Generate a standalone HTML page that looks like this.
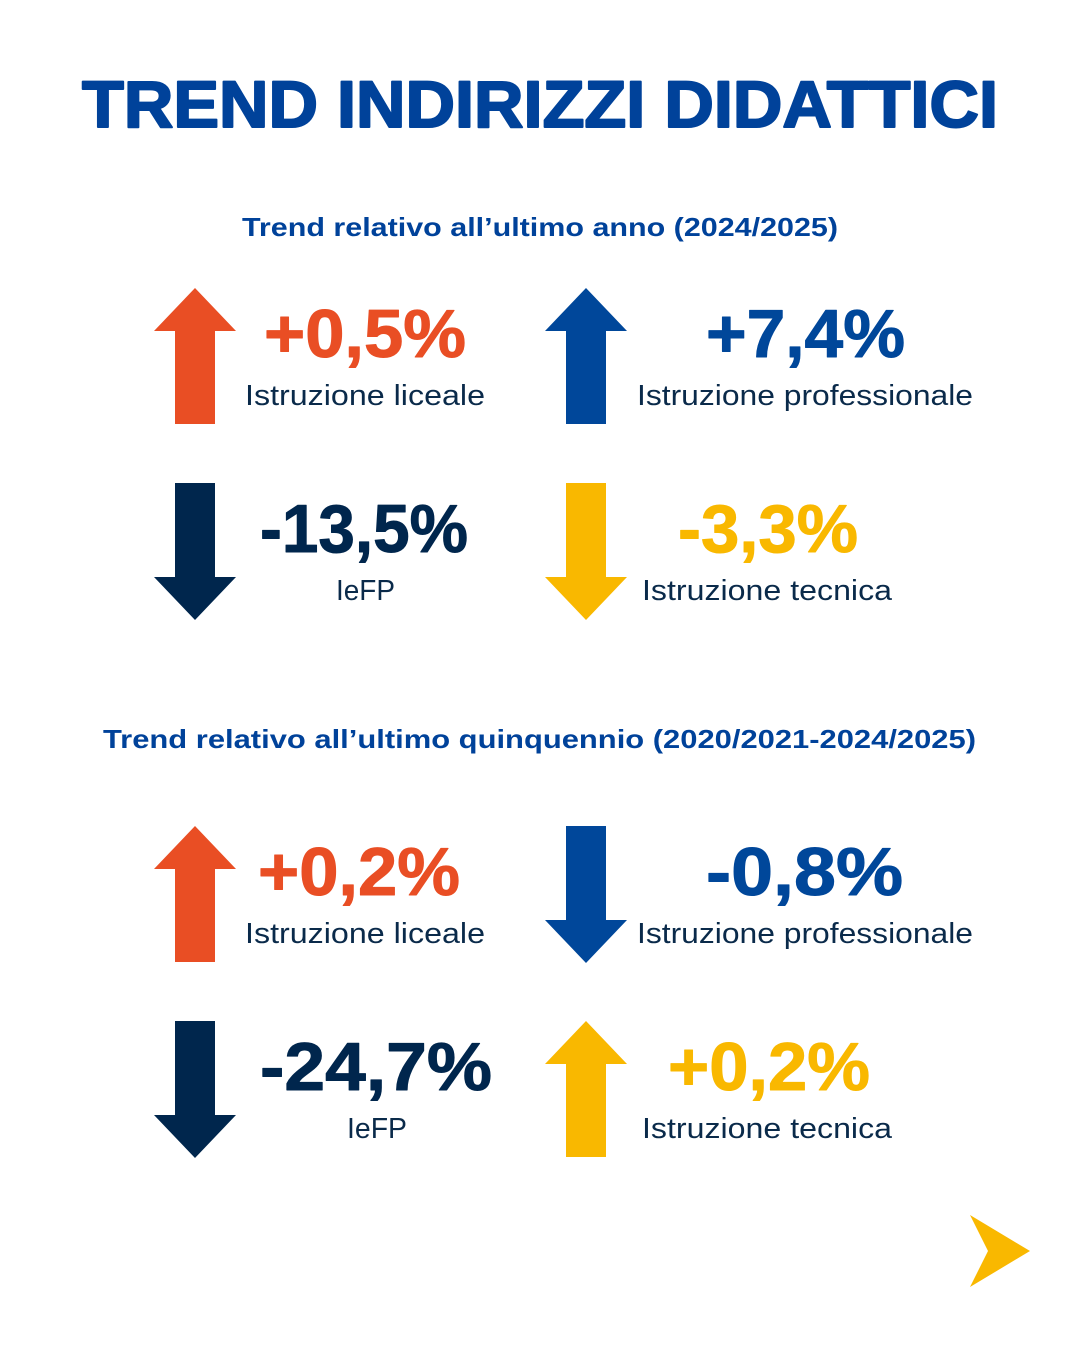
<!DOCTYPE html>
<html><head><meta charset="utf-8"><style>
html,body{margin:0;padding:0;background:#fff}
svg{display:block}
text{font-family:"Liberation Sans",sans-serif}
.t{font-weight:bold}
.n{stroke-width:1;stroke-linejoin:round}
.l{font-weight:normal;fill:#0a2a4a}
</style></head><body>
<svg width="1080" height="1350" viewBox="0 0 1080 1350" xmlns="http://www.w3.org/2000/svg">
<rect width="1080" height="1350" fill="#fff"/>
<text class="t" x="82" y="127" font-size="66" fill="#00429A" stroke="#00429A" stroke-width="2" stroke-linejoin="round" textLength="916" lengthAdjust="spacingAndGlyphs">TREND INDIRIZZI DIDATTICI</text>
<text class="t" x="242" y="236" font-size="26" fill="#00429A" textLength="596" lengthAdjust="spacingAndGlyphs">Trend relativo all’ultimo anno (2024/2025)</text>
<text class="t" x="103" y="748" font-size="26" fill="#00429A" textLength="873" lengthAdjust="spacingAndGlyphs">Trend relativo all’ultimo quinquennio (2020/2021-2024/2025)</text>

<defs>
<polygon id="up" points="41,0 82,43 61,43 61,136 21,136 21,43 0,43"/>
<polygon id="dn" points="21,0 61,0 61,94 82,94 41,137 0,94 21,94"/>
</defs>

<use href="#up" x="154" y="288" fill="#E94E24"/>
<use href="#up" x="545" y="288" fill="#00479A"/>
<use href="#dn" x="154" y="483" fill="#00264D"/>
<use href="#dn" x="545" y="483" fill="#F9B800"/>

<text class="t n" x="264" y="357" font-size="68" fill="#E94E24" stroke="#E94E24" textLength="202" lengthAdjust="spacingAndGlyphs">+0,5%</text>
<text class="l" x="245" y="405" font-size="29" textLength="240" lengthAdjust="spacingAndGlyphs">Istruzione liceale</text>
<text class="t n" x="706" y="357" font-size="68" fill="#00479A" stroke="#00479A" textLength="199" lengthAdjust="spacingAndGlyphs">+7,4%</text>
<text class="l" x="637" y="405" font-size="29" textLength="336" lengthAdjust="spacingAndGlyphs">Istruzione professionale</text>
<text class="t n" x="260" y="552" font-size="68" fill="#00264D" stroke="#00264D" textLength="208" lengthAdjust="spacingAndGlyphs">-13,5%</text>
<text class="l" x="336" y="600" font-size="29" textLength="59" lengthAdjust="spacingAndGlyphs">IeFP</text>
<text class="t n" x="678" y="552" font-size="68" fill="#F9B800" stroke="#F9B800" textLength="180" lengthAdjust="spacingAndGlyphs">-3,3%</text>
<text class="l" x="642" y="600" font-size="29" textLength="250" lengthAdjust="spacingAndGlyphs">Istruzione tecnica</text>

<use href="#up" x="154" y="826" fill="#E94E24"/>
<use href="#dn" x="545" y="826" fill="#00479A"/>
<use href="#dn" x="154" y="1021" fill="#00264D"/>
<use href="#up" x="545" y="1021" fill="#F9B800"/>

<text class="t n" x="258" y="895" font-size="68" fill="#E94E24" stroke="#E94E24" textLength="202" lengthAdjust="spacingAndGlyphs">+0,2%</text>
<text class="l" x="245" y="943" font-size="29" textLength="240" lengthAdjust="spacingAndGlyphs">Istruzione liceale</text>
<text class="t n" x="706" y="895" font-size="68" fill="#00479A" stroke="#00479A" textLength="197" lengthAdjust="spacingAndGlyphs">-0,8%</text>
<text class="l" x="637" y="943" font-size="29" textLength="336" lengthAdjust="spacingAndGlyphs">Istruzione professionale</text>
<text class="t n" x="260" y="1090" font-size="68" fill="#00264D" stroke="#00264D" textLength="232" lengthAdjust="spacingAndGlyphs">-24,7%</text>
<text class="l" x="347" y="1138" font-size="29" textLength="60" lengthAdjust="spacingAndGlyphs">IeFP</text>
<text class="t n" x="668" y="1090" font-size="68" fill="#F9B800" stroke="#F9B800" textLength="202" lengthAdjust="spacingAndGlyphs">+0,2%</text>
<text class="l" x="642" y="1138" font-size="29" textLength="250" lengthAdjust="spacingAndGlyphs">Istruzione tecnica</text>

<polygon points="970,1215 1030,1251 970,1287 988,1251" fill="#F9B800"/>
</svg>
</body></html>
